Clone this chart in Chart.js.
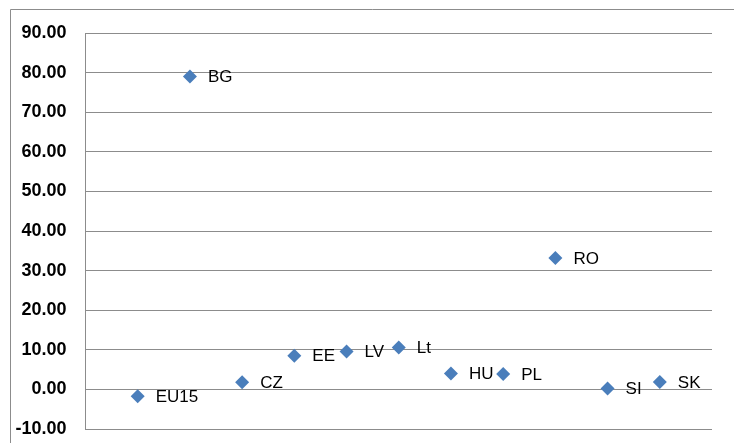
<!DOCTYPE html>
<html>
<head>
<meta charset="utf-8">
<script src="https://cdn.jsdelivr.net/npm/chart.js@4.4.0/dist/chart.umd.min.js"></script>
<style>
  html, body { margin: 0; padding: 0; background: #fff; }
  #wrap { width: 734px; height: 443px; position: relative; overflow: hidden; }
</style>
</head>
<body>
<div id="wrap"><canvas id="scatterChart" width="734" height="443"></canvas></div>
<script>
// data
var countries = ['EU15', 'BG', 'CZ', 'EE', 'LV', 'Lt', 'HU', 'PL', 'RO', 'SI', 'SK'];
var values = [-1.7, 79.0, 1.8, 8.5, 9.6, 10.6, 4.0, 3.9, 33.2, 0.2, 1.9];
var yTicks = [-10, 0, 10, 20, 30, 40, 50, 60, 70, 80, 90];

var points = countries.map(function (c, i) {
  return { x: i + 1, y: values[i] };
});

// outer frame like the excel chart area
var framePlugin = {
  id: 'frame',
  beforeDraw: function (chart) {
    var ctx = chart.ctx;
    ctx.save();
    ctx.fillStyle = '#fff';
    ctx.fillRect(0, 0, chart.width, chart.height);
    ctx.strokeStyle = '#8c8c8c';
    ctx.lineWidth = 1;
    ctx.beginPath();
    ctx.moveTo(10.5, chart.height + 2);
    ctx.lineTo(10.5, 9.5);
    ctx.lineTo(chart.width + 2, 9.5);
    ctx.stroke();
    ctx.restore();
  }
};

// country names next to each marker
var pointLabels = {
  id: 'pointLabels',
  afterDatasetsDraw: function (chart) {
    var ctx = chart.ctx;
    var meta = chart.getDatasetMeta(0);
    ctx.save();
    ctx.font = '17px "Liberation Sans", Arial, sans-serif';
    ctx.fillStyle = '#000';
    ctx.textAlign = 'left';
    ctx.textBaseline = 'middle';
    meta.data.forEach(function (el, i) {
      ctx.fillText(countries[i], el.x + 18, el.y + 1);
    });
    ctx.restore();
  }
};

var ctx = document.getElementById('scatterChart').getContext('2d');
var chart = new Chart(ctx, {
  type: 'scatter',
  data: {
    datasets: [{
      label: 'value',
      data: points,
      pointStyle: 'rectRot',
      pointRadius: 7,
      pointHoverRadius: 7,
      backgroundColor: '#4a7ebb',
      borderColor: '#4a7ebb',
      borderWidth: 0
    }]
  },
  plugins: [framePlugin, pointLabels],
  options: {
    responsive: false,
    animation: false,
    layout: { padding: { left: 0, right: 22, top: 33, bottom: 14 } },
    plugins: {
      legend: { display: false },
      tooltip: { enabled: false }
    },
    scales: {
      x: {
        type: 'linear',
        min: 0,
        max: countries.length + 1,
        display: false
      },
      y: {
        min: yTicks[0],
        max: yTicks[yTicks.length - 1],
        afterFit: function (scale) {
          scale.width = 85.5;
          scale.paddingTop = 0;
          scale.paddingBottom = 0;
        },
        afterBuildTicks: function (scale) {
          scale.ticks = yTicks.map(function (v) { return { value: v }; });
        },
        ticks: {
          padding: 19,
          color: '#000',
          font: { family: '"Liberation Sans", Arial, sans-serif', size: 18, weight: 'bold' },
          callback: function (v) { return Number(v).toFixed(2); }
        },
        grid: { color: '#8c8c8c', lineWidth: 1, drawTicks: false },
        border: { display: true, color: '#8c8c8c', width: 1 }
      }
    }
  }
});
</script>
</body>
</html>
